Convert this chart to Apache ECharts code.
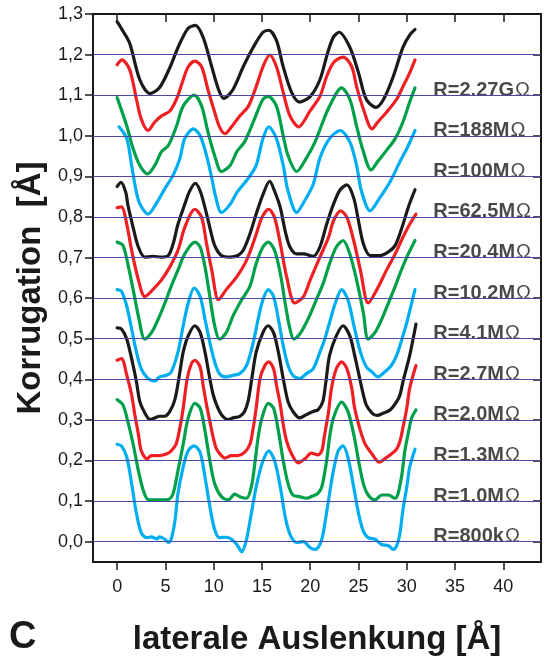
<!DOCTYPE html>
<html>
<head>
<meta charset="utf-8">
<script src="https://cdn.jsdelivr.net/npm/echarts@6/dist/echarts.min.js"></script>
<style>
  html, body { margin: 0; padding: 0; background: #fff; }
  #chart { width: 544px; height: 661px; }
</style>
</head>
<body>
<div id="chart"></div>
<script>
// Tick values on both axes
const xTicks = [0, 5, 10, 15, 20, 25, 30, 35, 40];
const yTicks = [0, 0.1, 0.2, 0.3, 0.4, 0.5, 0.6, 0.7, 0.8, 0.9, 1.0, 1.1, 1.2, 1.3];
// Horizontal reference levels (baseline of each offset profile)
const gridLevels = [0, 0.1, 0.2, 0.3, 0.4, 0.5, 0.6, 0.7, 0.8, 0.9, 1.0, 1.1, 1.2];

// Tunnel resistance of each profile, top to bottom, and the level each label sits on
const curveLabels = ['R=2.27GΩ', 'R=188MΩ', 'R=100MΩ', 'R=62.5MΩ', 'R=20.4MΩ', 'R=10.2MΩ',
                     'R=4.1MΩ', 'R=2.7MΩ', 'R=2.0MΩ', 'R=1.3MΩ', 'R=1.0MΩ', 'R=800kΩ'];
const labelLevels = [1.1, 1.0, 0.9, 0.8, 0.7, 0.6, 0.5, 0.4, 0.3, 0.2, 0.1, 0.0];

// Corrugation profiles: [lateral displacement (Å), corrugation (Å)]
const profile2270M = [[0,1.281],[0.5,1.262],[1.3,1.228],[2.35,1.138],[3.4,1.104],[4.4,1.119],[5.5,1.17],[6.0,1.2],[6.5,1.228],[7.36,1.265],[8.1,1.272],[8.9,1.243],[9.8,1.17],[10.5,1.114],[11.05,1.092],[12.0,1.114],[13.06,1.17],[14.1,1.218],[15.1,1.255],[15.7,1.26],[16.5,1.235],[17.2,1.17],[18.07,1.107],[18.9,1.083],[20.0,1.097],[21.0,1.138],[21.8,1.204],[22.4,1.243],[23.0,1.255],[24.1,1.218],[25.0,1.155],[25.8,1.09],[26.8,1.07],[27.6,1.09],[28.6,1.146],[29.6,1.218],[30.3,1.248],[30.85,1.262]];
const profile188M = [[0,1.175],[0.5,1.187],[1.3,1.163],[2.0,1.09],[2.5,1.041],[3.2,1.013],[3.9,1.034],[4.6,1.049],[5.46,1.061],[6.15,1.09],[6.84,1.138],[7.36,1.17],[8.05,1.184],[8.75,1.17],[9.4,1.114],[10.1,1.058],[10.6,1.022],[11.16,1.005],[11.85,1.022],[12.7,1.049],[13.6,1.073],[14.4,1.121],[15.1,1.17],[15.8,1.199],[16.5,1.17],[17.2,1.107],[17.9,1.049],[18.8,1.022],[20.0,1.062],[21.0,1.097],[21.7,1.146],[22.4,1.18],[23.4,1.194],[24.3,1.17],[24.8,1.121],[25.5,1.066],[26.4,1.017],[27.0,1.034],[27.9,1.058],[28.95,1.09],[29.6,1.121],[30.3,1.155],[30.85,1.187]];
const profile100M = [[0,1.094],[1.0,1.024],[1.66,0.968],[2.35,0.927],[3.15,0.906],[3.9,0.927],[4.6,0.961],[5.3,0.976],[6.15,1.024],[6.84,1.073],[7.98,1.1],[8.75,1.073],[9.4,1.01],[10.1,0.951],[10.8,0.912],[11.7,0.927],[12.4,0.961],[13.2,0.985],[14.1,1.034],[15.1,1.09],[15.65,1.097],[16.5,1.073],[17.2,1.0],[17.7,0.951],[18.6,0.912],[19.6,0.945],[20.5,0.985],[21.3,1.034],[22.0,1.073],[23.25,1.118],[24.1,1.09],[24.8,1.024],[25.5,0.961],[26.3,0.916],[27.0,0.937],[27.9,0.964],[28.8,0.993],[29.6,1.034],[30.3,1.083],[30.85,1.118]];
const profile62M = [[0.2,1.022],[1.0,0.993],[1.5,0.927],[2.0,0.86],[2.4,0.83],[3.2,0.807],[4.1,0.835],[4.9,0.868],[5.8,0.903],[6.5,0.944],[7.0,0.993],[7.9,1.017],[8.6,1.0],[9.26,0.951],[9.8,0.896],[10.2,0.85],[10.8,0.811],[11.7,0.831],[12.4,0.86],[13.6,0.896],[14.4,0.927],[15.1,0.993],[15.7,1.022],[16.5,0.993],[17.2,0.927],[17.7,0.864],[18.6,0.811],[19.3,0.835],[20.3,0.88],[21.0,0.945],[22.0,0.993],[23.1,1.013],[24.1,0.985],[24.8,0.927],[25.3,0.864],[26.2,0.815],[27.2,0.847],[28.3,0.888],[29.3,0.937],[30.0,0.968],[30.85,1.013]];
const profile20M = [[0,0.875],[0.4,0.885],[0.9,0.86],[1.1,0.831],[1.66,0.774],[2.2,0.726],[2.87,0.701],[3.7,0.703],[4.6,0.701],[5.3,0.705],[5.8,0.734],[6.3,0.782],[7.0,0.831],[7.5,0.863],[8.1,0.883],[8.6,0.864],[9.1,0.823],[9.6,0.774],[10.1,0.73],[10.8,0.705],[11.7,0.701],[12.5,0.705],[13.06,0.718],[13.75,0.758],[14.4,0.807],[15.1,0.855],[15.8,0.888],[16.3,0.864],[16.9,0.823],[17.4,0.766],[17.9,0.726],[18.6,0.709],[19.3,0.709],[20.3,0.703],[21.0,0.726],[21.7,0.782],[22.4,0.831],[23.1,0.867],[23.8,0.879],[24.5,0.847],[25.0,0.79],[25.5,0.734],[26.2,0.705],[27.2,0.705],[28.1,0.714],[28.8,0.73],[29.5,0.774],[30.2,0.827],[30.85,0.867]];
const profile10M = [[0,0.823],[0.45,0.825],[1.0,0.782],[1.5,0.718],[2.2,0.645],[2.87,0.604],[3.7,0.621],[4.6,0.645],[5.46,0.677],[6.3,0.718],[7.0,0.774],[8.05,0.819],[8.75,0.799],[9.26,0.734],[9.8,0.669],[10.5,0.596],[11.3,0.621],[12.4,0.653],[13.4,0.693],[14.3,0.75],[15.0,0.799],[15.7,0.819],[16.3,0.799],[16.9,0.734],[17.55,0.653],[18.4,0.588],[19.3,0.604],[20.0,0.645],[21.0,0.701],[21.9,0.75],[22.4,0.79],[23.15,0.815],[23.8,0.799],[24.5,0.742],[25.2,0.669],[26.0,0.588],[26.9,0.621],[27.9,0.669],[28.8,0.709],[29.6,0.75],[30.3,0.782],[30.95,0.807]];
const profile4M = [[0,0.738],[0.6,0.73],[1.1,0.685],[1.66,0.621],[2.2,0.556],[2.87,0.499],[3.56,0.515],[4.25,0.548],[4.95,0.588],[5.6,0.629],[6.3,0.669],[7.0,0.709],[8.05,0.738],[8.6,0.726],[9.1,0.677],[9.6,0.604],[10.1,0.532],[10.6,0.499],[11.3,0.515],[12.0,0.556],[12.9,0.596],[13.75,0.629],[14.4,0.685],[15.1,0.726],[15.65,0.738],[16.3,0.718],[16.9,0.661],[17.4,0.588],[17.9,0.524],[18.3,0.499],[18.9,0.511],[19.8,0.55],[20.7,0.6],[21.35,0.637],[22.0,0.685],[22.7,0.726],[23.4,0.742],[24.1,0.709],[24.8,0.645],[25.5,0.564],[26.0,0.499],[26.7,0.515],[27.4,0.548],[28.1,0.588],[28.8,0.629],[29.3,0.661],[30.0,0.701],[30.85,0.742]];
const profile2M7 = [[0,0.621],[0.45,0.617],[1.0,0.58],[1.5,0.524],[2.0,0.467],[2.5,0.426],[3.2,0.402],[3.9,0.396],[4.4,0.406],[5.1,0.41],[5.6,0.418],[6.3,0.467],[6.84,0.532],[7.36,0.588],[7.98,0.625],[8.6,0.604],[9.1,0.548],[9.6,0.491],[10.1,0.443],[10.6,0.414],[11.3,0.406],[12.0,0.41],[12.7,0.414],[13.4,0.434],[14.1,0.491],[14.6,0.548],[15.1,0.596],[15.65,0.621],[16.2,0.604],[16.7,0.548],[17.2,0.483],[17.7,0.434],[18.2,0.41],[18.9,0.402],[19.6,0.414],[20.3,0.426],[21.0,0.467],[21.5,0.499],[22.0,0.54],[22.6,0.588],[23.25,0.621],[23.9,0.596],[24.6,0.524],[25.2,0.467],[25.8,0.431],[26.4,0.418],[27.0,0.406],[27.7,0.418],[28.4,0.434],[28.95,0.459],[29.5,0.499],[30.0,0.54],[30.5,0.588],[30.85,0.621]];
const profile2M0 = [[0,0.527],[0.45,0.524],[1.0,0.499],[1.5,0.451],[2.0,0.394],[2.35,0.345],[2.87,0.317],[3.4,0.301],[3.9,0.305],[4.4,0.309],[4.9,0.309],[5.46,0.321],[6.0,0.352],[6.5,0.418],[6.84,0.467],[7.36,0.507],[8.05,0.532],[8.6,0.515],[9.1,0.467],[9.6,0.402],[9.95,0.362],[10.3,0.337],[10.8,0.313],[11.5,0.301],[12.0,0.305],[12.7,0.309],[13.2,0.321],[13.6,0.35],[14.0,0.41],[14.4,0.467],[15.1,0.515],[15.65,0.532],[16.2,0.515],[16.7,0.467],[17.2,0.402],[17.7,0.345],[18.2,0.321],[18.9,0.305],[19.6,0.313],[20.3,0.321],[20.8,0.325],[21.3,0.345],[21.6,0.39],[22.0,0.459],[22.7,0.507],[23.4,0.532],[24.1,0.507],[24.6,0.459],[25.2,0.394],[25.5,0.362],[25.8,0.337],[26.4,0.317],[26.9,0.311],[27.6,0.317],[28.3,0.325],[28.95,0.345],[29.3,0.362],[29.6,0.394],[30.3,0.459],[30.95,0.536]];
const profile1M3 = [[0,0.447],[0.45,0.451],[1.0,0.41],[1.5,0.362],[1.83,0.313],[2.2,0.265],[2.5,0.224],[3.1,0.204],[3.56,0.212],[4.25,0.212],[5.1,0.216],[5.6,0.224],[6.1,0.24],[6.5,0.281],[6.84,0.329],[7.26,0.402],[7.7,0.439],[8.05,0.447],[8.6,0.43],[8.9,0.386],[9.26,0.337],[9.6,0.297],[9.95,0.257],[10.3,0.228],[10.8,0.212],[11.15,0.206],[11.85,0.212],[12.5,0.212],[13.2,0.22],[13.75,0.24],[14.1,0.281],[14.4,0.329],[14.8,0.402],[15.3,0.434],[15.7,0.443],[16.2,0.426],[16.5,0.386],[16.9,0.337],[17.2,0.289],[17.55,0.248],[18.07,0.216],[18.76,0.194],[19.45,0.204],[20.1,0.218],[20.8,0.214],[21.2,0.224],[21.5,0.265],[21.9,0.321],[22.2,0.378],[22.7,0.426],[23.25,0.443],[23.8,0.426],[24.3,0.378],[24.6,0.329],[25.2,0.273],[25.7,0.24],[26.4,0.216],[27.15,0.196],[27.7,0.204],[28.4,0.216],[28.95,0.228],[29.3,0.248],[29.6,0.281],[30.0,0.329],[30.3,0.378],[30.95,0.434]];
const profile1M0 = [[0,0.35],[0.6,0.337],[1.1,0.297],[1.66,0.24],[2.2,0.175],[2.7,0.127],[3.2,0.104],[3.9,0.103],[4.6,0.103],[5.3,0.104],[5.8,0.119],[6.3,0.175],[6.84,0.24],[7.36,0.305],[8.05,0.341],[8.6,0.329],[9.1,0.273],[9.6,0.2],[10.1,0.143],[10.8,0.111],[11.5,0.103],[12.2,0.117],[12.7,0.111],[13.4,0.107],[13.9,0.135],[14.3,0.2],[14.6,0.257],[15.0,0.305],[15.65,0.341],[16.2,0.329],[16.7,0.273],[17.2,0.2],[17.7,0.143],[18.2,0.115],[18.9,0.111],[19.6,0.107],[20.3,0.113],[20.8,0.119],[21.2,0.135],[21.7,0.2],[22.0,0.257],[22.4,0.305],[23.25,0.344],[23.9,0.321],[24.5,0.265],[25.0,0.2],[25.5,0.143],[26.0,0.115],[26.7,0.103],[27.4,0.115],[28.1,0.115],[28.8,0.107],[29.1,0.119],[29.5,0.167],[29.8,0.224],[30.2,0.273],[30.5,0.305],[30.95,0.325]];
const profile800k = [[0,0.24],[0.45,0.236],[1.0,0.208],[1.5,0.143],[2.0,0.07],[2.5,0.022],[3.05,0.01],[3.56,0.012],[4.1,0.007],[4.4,0.012],[4.95,0.006],[5.3,-0.002],[5.6,0.006],[6.0,0.054],[6.3,0.119],[6.84,0.184],[7.36,0.224],[7.98,0.236],[8.6,0.22],[9.1,0.159],[9.6,0.087],[10.1,0.03],[10.6,0.01],[11.3,0.011],[11.85,0.006],[12.4,-0.007],[12.9,-0.025],[13.4,0.006],[13.9,0.07],[14.4,0.135],[15.0,0.192],[15.7,0.224],[16.3,0.2],[16.9,0.135],[17.4,0.062],[17.9,0.018],[18.6,-0.002],[19.3,0.0],[20.0,-0.015],[20.5,-0.019],[21.0,-0.007],[21.35,0.022],[21.9,0.103],[22.4,0.175],[22.9,0.224],[23.4,0.236],[23.9,0.208],[24.5,0.135],[25.0,0.07],[25.5,0.026],[26.0,0.01],[26.7,0.006],[27.4,-0.007],[28.1,-0.01],[28.6,-0.019],[29.0,-0.007],[29.3,0.022],[29.6,0.078],[30.0,0.135],[30.3,0.184],[30.85,0.228]];

const profiles = [profile2270M, profile188M, profile100M, profile62M, profile20M, profile10M,
                  profile4M, profile2M7, profile2M0, profile1M3, profile1M0, profile800k];

const FONT = "'Liberation Sans', Arial, Helvetica, sans-serif";
const INK = '#1a1a1a';
// Line colours repeat black, red, green, cyan from the top profile down
const palette = ['#1a1a1a', '#ee2024', '#00a04b', '#00aeef'];

const chart = echarts.init(document.getElementById('chart'), null, { renderer: 'canvas' });

const series = [];

// Blue reference lines at every 0.1 Å, underneath the profiles
series.push({
  type: 'line',
  data: [],
  z: 1,
  silent: true,
  markLine: {
    silent: true,
    symbol: 'none',
    animation: false,
    label: { show: false },
    lineStyle: { color: '#4a4aa6', width: 1, type: 'solid' },
    data: gridLevels.map(v => ({ yAxis: v }))
  }
});

profiles.forEach((pts, i) => {
  series.push({
    type: 'line',
    name: curveLabels[i],
    data: pts,
    z: 3,
    smooth: 0.3,
    showSymbol: false,
    silent: true,
    clip: false,
    lineStyle: { color: palette[i % 4], width: 3.2, cap: 'round', join: 'round' }
  });
});

// Resistance labels at the right-hand side of each profile's reference line
series.push({
  type: 'scatter',
  z: 4,
  silent: true,
  symbolSize: 0,
  data: curveLabels.map((t, i) => [32.75, labelLevels[i], t]),
  label: {
    show: true,
    position: [0, 0],
    align: 'left',
    verticalAlign: 'bottom',
    offset: [0, 5],
    formatter: p => '{b|' + p.value[2].slice(0, -1) + '}{o|' + p.value[2].slice(-1) + '}',
    rich: {
      b: { fontFamily: FONT, fontWeight: 'bold', fontSize: 20, color: INK },
      o: { fontFamily: FONT, fontWeight: 'normal', fontSize: 20, color: INK, padding: [0, 0, 0, 1] }
    }
  }
});

const frameLine = { show: true, onZero: false, lineStyle: { color: INK, width: 2 } };
const tickStyle = { color: INK, width: 1.5 };

chart.setOption({
  animation: false,
  backgroundColor: '#ffffff',
  grid: { left: 93, right: 3, top: 14, bottom: 92, containLabel: false },
  xAxis: [
    {
      type: 'value', position: 'bottom', min: -2.5, max: 43.9,
      axisLine: frameLine,
      axisTick: { show: true, customValues: xTicks, length: 8, inside: false, lineStyle: tickStyle },
      axisLabel: { show: true, customValues: xTicks, margin: 16, fontSize: 18, color: INK, fontFamily: FONT },
      splitLine: { show: false },
      name: 'laterale Auslenkung [Å]',
      nameLocation: 'middle',
      nameGap: 61,
      nameTextStyle: { fontSize: 33, fontWeight: 'bold', fontFamily: FONT, color: INK }
    },
    {
      type: 'value', position: 'top', min: -2.5, max: 43.9,
      axisLine: frameLine,
      axisTick: { show: true, customValues: xTicks, length: 8, inside: true, lineStyle: tickStyle },
      axisLabel: { show: false },
      splitLine: { show: false }
    }
  ],
  yAxis: [
    {
      type: 'value', position: 'left', min: -0.05, max: 1.3,
      axisLine: frameLine,
      axisTick: { show: true, customValues: yTicks, length: 8, inside: false, lineStyle: tickStyle },
      axisLabel: {
        show: true, customValues: yTicks, margin: 10, fontSize: 18, color: INK, fontFamily: FONT,
        formatter: v => v.toFixed(1).replace('.', ',')
      },
      splitLine: { show: false },
      name: 'Korrugation  [Å]',
      nameLocation: 'middle',
      nameRotate: 90,
      nameGap: 44,
      nameTextStyle: { fontSize: 33, fontWeight: 'bold', fontFamily: FONT, color: INK }
    },
    {
      type: 'value', position: 'right', min: -0.05, max: 1.3,
      axisLine: frameLine,
      axisTick: { show: true, customValues: yTicks, length: 8, inside: true, lineStyle: tickStyle },
      axisLabel: { show: false },
      splitLine: { show: false }
    }
  ],
  graphic: [
    {
      type: 'text', left: 9, top: 619,
      style: { text: 'C', font: 'bold 38px ' + FONT, fill: INK }
    }
  ],
  series: series
});
</script>
</body>
</html>
